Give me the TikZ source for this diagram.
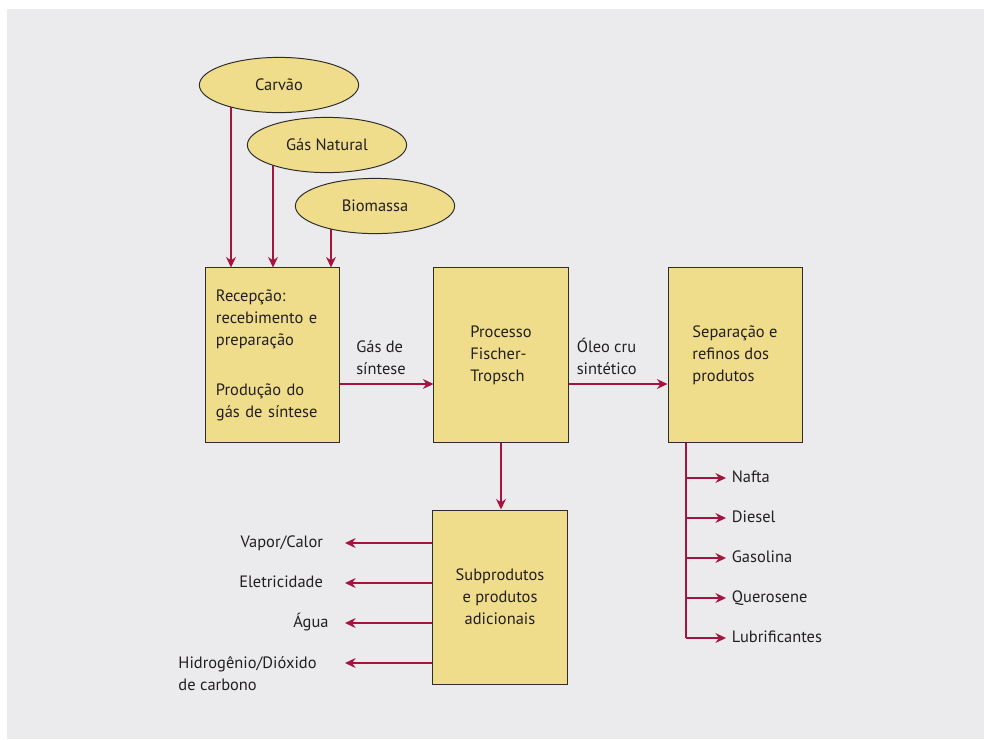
\documentclass[tikz,border=0pt]{standalone}
\usepackage{fontspec}
\setmainfont{PT Sans}
\usepackage{tikz}
\newcommand{\boxwidth}{3.35cm}
\newcommand{\boxheight}{4.35cm}
\newcommand{\ellwidth}{3.98cm}
\newcommand{\ellheight}{1.38cm}
\definecolor{boxYellow}{RGB}{239,221,140}
\definecolor{flowRed}{RGB}{166,20,62}
\definecolor{paperGray}{RGB}{235,235,237}
\definecolor{edgeGray}{RGB}{45,45,45}
\definecolor{inkGray}{RGB}{35,31,32}
\usetikzlibrary{arrows.meta,calc,positioning,shapes.geometric}
\pgfdeclarelayer{bg}
\pgfsetlayers{bg,main}
\tikzset{
  >={Stealth[length=7.5pt,width=7pt]},
  font=\fontsize{11.7}{15.6}\selectfont,
  text=inkGray,
  stage/.style={draw=edgeGray,fill=boxYellow,shape=rectangle,minimum width=\boxwidth,minimum height=\boxheight,inner sep=0,line width=0.7pt,align=left},
  source/.style={draw=edgeGray,fill=boxYellow,shape=ellipse,minimum width=\ellwidth,minimum height=\ellheight,inner sep=0,line width=0.7pt},
  flow/.style={draw=flowRed,->,line width=1pt},
  lbl/.style={inner sep=0},
  outlbl/.style={inner ysep=0,inner xsep=4pt,text height=8.5pt,text depth=2.5pt},
}

\begin{document}
\begin{tikzpicture}[x=0.025cm,y=-0.025cm]
  \useasboundingbox (0,0) rectangle (984,739);
  \begin{pgfonlayer}{bg}
    \fill [paperGray] (7,9) rectangle (984,739);
  \end{pgfonlayer}
  % feedstocks
  \node (carvao) [source] at (279,85) {Carvão};
  \node (gasnat) [source] at (327,145) {Gás Natural};
  \node (biomassa) [source] at (375,206) {Biomassa};
  % process stages
  \node (recepcao) [stage,text width=2.825cm] at (272.5,355) {Recepção:\\recebimento e\\preparação\\[20pt]Produção do\\gás de síntese};
  \node (processo) [stage] at (501,355) {Processo\\Fischer-\\Tropsch};
  \node (separacao) [stage] at (735,355) {Separação e\\refinos dos\\produtos};
  \node (subprod) [stage,align=center] at (500,597) {Subprodutos\\e produtos\\adicionais};
  % inputs into the first stage
  \coordinate (c1) at ($(carvao)+(-48,0)$);
  \coordinate (c2) at ($(gasnat)+(-54,0)$);
  \coordinate (c3) at ($(biomassa)+(-44,0)$);
  \begin{pgfonlayer}{bg}
    \path [flow] (c1) -- (c1 |- recepcao.north);
    \path [flow] (c2) -- (c2 |- recepcao.north);
    \path [flow] (c3) -- (c3 |- recepcao.north);
  \end{pgfonlayer}
  % main line
  \coordinate (g1) at ($(recepcao.east)+(0,29)$);
  \coordinate (o1) at ($(processo.east)+(0,29)$);
  \path [flow] (g1) -- (g1 -| processo.west);
  \path [flow] (o1) -- (o1 -| separacao.west);
  \node (gassint) [lbl,align=left,anchor=south west] at ($(g1)+(16,-9)$) {Gás de\\síntese};
  \node (oleo) [lbl,align=left,anchor=south west] at ($(o1)+(8,-9)$) {Óleo cru\\sintético};
  \path [flow] (processo.south) -- (processo.south |- subprod.north);
  % by-products
  \node (vapor) [outlbl,anchor=east,inner xsep=15.5pt] at (345,543) {Vapor/Calor};
  \node (eletric) [outlbl,anchor=east,inner xsep=15.5pt] at (345,583) {Eletricidade};
  \node (agua) [outlbl,anchor=east,inner xsep=11.5pt] at (345,623) {Água};
  \node (hidro) [lbl,align=left,anchor=north east,inner xsep=20pt] at (345,656) {Hidrogênio/Dióxido\\de carbono};
  \coordinate (h1) at ($(subprod.west)+(0,66)$);
  \path [flow] (vapor.east -| subprod.west) -- (vapor.east);
  \path [flow] (eletric.east -| subprod.west) -- (eletric.east);
  \path [flow] (agua.east -| subprod.west) -- (agua.east);
  \path [flow] (h1) -- (h1 -| hidro.east);
  % refined products
  \coordinate (s0) at ($(separacao.south)+(-49,0)$);
  \node (nafta) [outlbl,anchor=west] at (726,478) {Nafta};
  \node (diesel) [outlbl,anchor=west] at (726,518) {Diesel};
  \node (gasolina) [outlbl,anchor=west] at (726,558) {Gasolina};
  \node (querosene) [outlbl,anchor=west] at (726,598) {Querosene};
  \node (lubrif) [outlbl,anchor=west] at (726,638) {Lubrificantes};
  \path [draw=flowRed,line width=1pt] (s0) -- (s0 |- lubrif);
  \path [flow] (s0 |- nafta) -- (nafta.west);
  \path [flow] (s0 |- diesel) -- (diesel.west);
  \path [flow] (s0 |- gasolina) -- (gasolina.west);
  \path [flow] (s0 |- querosene) -- (querosene.west);
  \path [flow] (s0 |- lubrif) -- (lubrif.west);
\end{tikzpicture}
\end{document}
